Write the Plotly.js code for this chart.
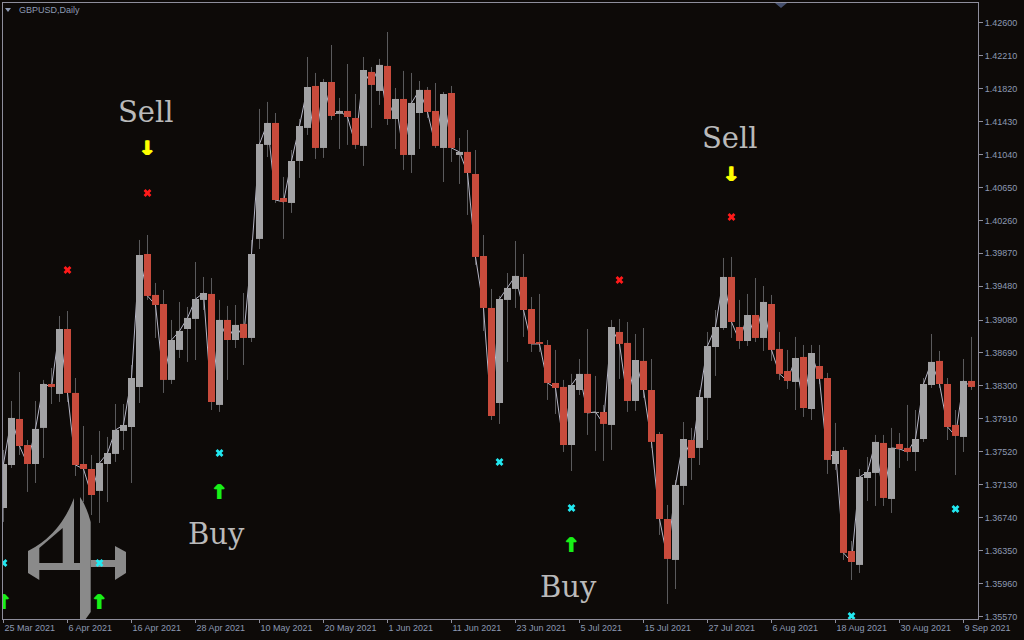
<!DOCTYPE html>
<html>
<head>
<meta charset="utf-8">
<script src="https://cdn.plot.ly/plotly-3.0.1.min.js"></script>
<style>
  html, body { margin:0; padding:0; background:#0d0a08; }
  #chart { width:1024px; height:640px; }
</style>
</head>
<body>
<div id="chart"></div>
<script>
// ---------- data ----------
const dates = [
 "2021-03-25","2021-03-26","2021-03-29","2021-03-30","2021-03-31",
 "2021-04-01","2021-04-02","2021-04-05","2021-04-06","2021-04-07","2021-04-08","2021-04-09",
 "2021-04-12","2021-04-13","2021-04-14","2021-04-15","2021-04-16","2021-04-19","2021-04-20",
 "2021-04-21","2021-04-22","2021-04-23","2021-04-26","2021-04-27","2021-04-28","2021-04-29","2021-04-30",
 "2021-05-03","2021-05-04","2021-05-05","2021-05-06","2021-05-07","2021-05-10","2021-05-11","2021-05-12",
 "2021-05-13","2021-05-14","2021-05-17","2021-05-18","2021-05-19","2021-05-20","2021-05-21","2021-05-24",
 "2021-05-25","2021-05-26","2021-05-27","2021-05-28","2021-05-31",
 "2021-06-01","2021-06-02","2021-06-03","2021-06-04","2021-06-07","2021-06-08","2021-06-09","2021-06-10",
 "2021-06-11","2021-06-14","2021-06-15","2021-06-16","2021-06-17","2021-06-18","2021-06-21","2021-06-22",
 "2021-06-23","2021-06-24","2021-06-25","2021-06-28","2021-06-29","2021-06-30",
 "2021-07-01","2021-07-02","2021-07-05","2021-07-06","2021-07-07","2021-07-08","2021-07-09","2021-07-12",
 "2021-07-13","2021-07-14","2021-07-15","2021-07-16","2021-07-19","2021-07-20","2021-07-21","2021-07-22",
 "2021-07-23","2021-07-26","2021-07-27","2021-07-28","2021-07-29","2021-07-30",
 "2021-08-02","2021-08-03","2021-08-04","2021-08-05","2021-08-06","2021-08-09","2021-08-10","2021-08-11",
 "2021-08-12","2021-08-13","2021-08-16","2021-08-17","2021-08-18","2021-08-19","2021-08-20","2021-08-23",
 "2021-08-24","2021-08-25","2021-08-26","2021-08-27","2021-08-30","2021-08-31",
 "2021-09-01","2021-09-02","2021-09-03","2021-09-06","2021-09-07","2021-09-08","2021-09-09","2021-09-10"
];

const open = [
 1.36855,1.37364,1.37909,1.37601,1.37376,1.37803,1.38323,1.38205,1.38974,1.38217,
 1.37376,1.37317,1.37057,1.37376,1.37495,1.37767,1.37814,1.38288,1.39862,1.39377,
 1.39270,1.38371,1.38726,1.38974,1.39093,1.39318,1.39389,1.38075,1.39081,1.38844,
 1.39034,1.38868,1.40040,1.41153,1.41413,1.40525,1.40466,1.40963,1.41354,1.41851,
 1.41117,1.41898,1.41520,1.41555,1.41472,1.41141,1.42017,1.41792,1.42088,1.41460,
 1.41697,1.41034,1.41531,1.41804,1.41555,1.41117,1.41768,1.41034,1.41070,1.40809,
 1.39838,1.39223,1.38098,1.39318,1.39448,1.39590,1.39211,1.38820,1.38785,1.38335,
 1.38288,1.37601,1.38252,1.38442,1.37980,1.37992,1.37838,1.38939,1.38809,1.38122,
 1.38596,1.38252,1.37731,1.36725,1.36240,1.37116,1.37660,1.37566,1.38158,1.38761,
 1.38986,1.39590,1.38998,1.38832,1.39140,1.38868,1.39270,1.38738,1.38477,1.38347,
 1.38643,1.38027,1.38536,1.38394,1.37376,1.37542,1.36346,1.36181,1.37210,1.37270,
 1.37625,1.36962,1.37613,1.37566,1.37518,1.37672,1.38311,1.38596,1.38323,1.37838,
 1.37696,1.38359
];
const high = [
 1.37542,1.38122,1.38465,1.37660,1.38122,1.38371,1.38513,1.39128,1.39187,1.38394,
 1.37826,1.37483,1.37767,1.37696,1.38086,1.38086,1.38548,1.40028,1.40087,1.39519,
 1.39436,1.39081,1.39294,1.39235,1.39767,1.39590,1.39578,1.39318,1.39247,1.39258,
 1.39400,1.40028,1.41579,1.41662,1.41531,1.40774,1.41093,1.41460,1.42194,1.42005,
 1.41934,1.42336,1.41709,1.42111,1.41756,1.42194,1.42076,1.42171,1.42490,1.41827,
 1.42029,1.42005,1.41910,1.41839,1.41886,1.41780,1.41851,1.41235,1.41330,1.41093,
 1.40087,1.39448,1.39365,1.39637,1.40016,1.39862,1.39353,1.39389,1.38844,1.38726,
 1.38371,1.38442,1.38619,1.38974,1.38418,1.38075,1.39081,1.39093,1.39057,1.38915,
 1.38986,1.38619,1.37755,1.36891,1.37187,1.37873,1.37803,1.38252,1.38939,1.39199,
 1.39815,1.39827,1.39318,1.39389,1.39578,1.39483,1.39377,1.38939,1.38726,1.38880,
 1.38785,1.38785,1.38785,1.38454,1.37862,1.37577,1.36465,1.37317,1.37459,1.37720,
 1.37720,1.37803,1.37743,1.38075,1.38015,1.38394,1.38915,1.38714,1.38394,1.38015,
 1.38619,1.38880
];
const low = [
 1.36690,1.37329,1.37483,1.37045,1.37151,1.37447,1.38086,1.38110,1.38110,1.37234,
 1.36926,1.36772,1.36678,1.36926,1.37400,1.37542,1.37151,1.38098,1.39318,1.38868,
 1.38217,1.38323,1.38631,1.38584,1.38607,1.39199,1.38015,1.37992,1.38371,1.38749,
 1.38548,1.38820,1.39921,1.41010,1.40466,1.40040,1.40348,1.40762,1.41271,1.40987,
 1.40999,1.41448,1.41105,1.41153,1.41105,1.40904,1.41354,1.41626,1.41389,1.41105,
 1.40857,1.40821,1.41105,1.41472,1.41117,1.40714,1.40951,1.40691,1.40324,1.39732,
 1.38951,1.37897,1.37850,1.38584,1.39223,1.38880,1.38702,1.38702,1.38134,1.37968,
 1.37518,1.37293,1.38193,1.37720,1.37530,1.37412,1.37542,1.38383,1.37992,1.38004,
 1.38158,1.37566,1.36536,1.35719,1.35896,1.36891,1.37187,1.37364,1.37660,1.38418,
 1.38963,1.38868,1.38738,1.38773,1.38820,1.38714,1.38596,1.38371,1.38264,1.38015,
 1.37933,1.37897,1.38323,1.37258,1.37305,1.36240,1.36003,1.36086,1.36938,1.36879,
 1.36879,1.36796,1.37329,1.37412,1.37293,1.37637,1.38276,1.38276,1.37660,1.37246,
 1.37518,1.38252
];
const close = [
 1.37376,1.37921,1.37589,1.37376,1.37791,1.38323,1.38288,1.38974,1.38217,1.37364,
 1.37317,1.37009,1.37388,1.37506,1.37779,1.37838,1.38394,1.39850,1.39365,1.39258,
 1.38371,1.38844,1.38951,1.39105,1.39329,1.39400,1.38110,1.39081,1.38844,1.39022,
 1.38868,1.39862,1.41164,1.41413,1.40501,1.40478,1.40963,1.41377,1.41839,1.41117,
 1.41898,1.41496,1.41555,1.41484,1.41153,1.42040,1.41863,1.42100,1.41460,1.41697,
 1.41034,1.41650,1.41804,1.41543,1.41141,1.41756,1.41117,1.41070,1.40821,1.39827,
 1.39223,1.37944,1.39329,1.39460,1.39602,1.39199,1.38797,1.38797,1.38335,1.38276,
 1.37601,1.38311,1.38442,1.37980,1.37992,1.37850,1.38998,1.38797,1.38122,1.38607,
 1.38252,1.37637,1.36725,1.36252,1.37128,1.37672,1.37447,1.38169,1.38773,1.38998,
 1.39590,1.39057,1.38832,1.39140,1.38868,1.39294,1.38726,1.38442,1.38359,1.38631,
 1.38039,1.38690,1.38383,1.37424,1.37530,1.36323,1.36216,1.37222,1.37281,1.37637,
 1.36974,1.37566,1.37554,1.37518,1.37672,1.38323,1.38584,1.38323,1.37814,1.37708,
 1.38359,1.38288
];

// signals
const sellMarkDates  = ["2021-04-06","2021-04-20","2021-07-12","2021-07-30"];
const sellMarkPrices = [1.39673, 1.40584, 1.39554, 1.40300];
const sellArrowDates  = ["2021-04-20","2021-07-30"];
const sellArrowPrices = [1.41093, 1.40786];
const buyMarkDates  = ["2021-03-25","2021-04-12","2021-05-03","2021-06-21","2021-07-02","2021-08-20","2021-09-08"];
const buyMarkPrices = [1.36204, 1.36204, 1.37506, 1.37400, 1.36855, 1.35577, 1.36844];
const buyArrowDates  = ["2021-03-25","2021-04-12","2021-05-03","2021-07-02"];
const buyArrowPrices = [1.35719, 1.35719, 1.37021, 1.36394];
const sellLabelDates  = ["2021-04-20","2021-07-30"];
const sellLabelPrices = [1.41093, 1.40786];
const buyLabelDates   = ["2021-05-03","2021-07-02"];
const buyLabelPrices  = [1.37021, 1.36394];

// axis ticks
const priceTicks = [1.42600,1.42210,1.41820,1.41430,1.41040,1.40650,1.40260,1.39870,1.39480,
  1.39080,1.38690,1.38300,1.37910,1.37520,1.37130,1.36740,1.36350,1.35960,1.35570];
const dateTickValues = ["2021-03-25","2021-04-06","2021-04-16","2021-04-28","2021-05-10","2021-05-20",
  "2021-06-01","2021-06-11","2021-06-23","2021-07-05","2021-07-15","2021-07-27","2021-08-06",
  "2021-08-18","2021-08-30","2021-09-09"];
const dateTickLabels = ["25 Mar 2021","6 Apr 2021","16 Apr 2021","28 Apr 2021","10 May 2021","20 May 2021",
  "1 Jun 2021","11 Jun 2021","23 Jun 2021","5 Jul 2021","15 Jul 2021","27 Jul 2021","6 Aug 2021",
  "18 Aug 2021","30 Aug 2021","9 Sep 2021"];

// ---------- style ----------
const BG = "#0d0a08";
const BULL = "#a2a2a4";
const BEAR = "#c84b3c";
const WICK = "#5a5a5c";
const AXIS = "#8e8e9c";
const LABEL = "#8c99b2";
const MINBODY = 0.00012;

// ---------- traces ----------
const wx = [], wy = [];
dates.forEach((d, i) => { wx.push(d, d, null); wy.push(low[i], high[i], null); });

function bodies(isBull) {
  const bx = [], by = [];
  dates.forEach((d, i) => {
    const up = close[i] >= open[i];
    if (up !== isBull) return;
    let a = Math.min(open[i], close[i]), b = Math.max(open[i], close[i]);
    if (b - a < MINBODY) { const m = (a + b) / 2; a = m - MINBODY / 2; b = m + MINBODY / 2; }
    bx.push(d, d, null); by.push(a, b, null);
  });
  return { type:"scatter", mode:"lines", x:bx, y:by, connectgaps:false,
    line:{color:isBull ? BULL : BEAR, width:7}, hoverinfo:"skip" };
}

const GREEN = "#18f018", YELLOW = "#ffff00";
const traces = [
  { type:"scatter", mode:"lines", x:wx, y:wy, connectgaps:false,
    line:{color:WICK, width:1}, hoverinfo:"skip" },
  { type:"scatter", mode:"lines", x:dates, y:close,
    line:{color:"#b6b6c6", width:1}, hoverinfo:"skip" },
  bodies(true),
  bodies(false),
  { type:"scatter", mode:"markers", x:sellMarkDates, y:sellMarkPrices,
    marker:{symbol:"x", size:7, color:"#ff1a1a", line:{width:0}} },
  { type:"scatter", mode:"markers", x:buyMarkDates, y:buyMarkPrices,
    marker:{symbol:"x", size:7, color:"#22e8f0", line:{width:0}} },
  { type:"scatter", mode:"text", x:sellArrowDates, y:sellArrowPrices, text:sellArrowDates.map(()=>"↓"),
    textposition:"middle center",
    textfont:{family:"DejaVu Sans", size:20, color:YELLOW, weight:"bold",
      shadow:"1px 0px 0px " + YELLOW + ", -1px 0px 0px " + YELLOW} },
  { type:"scatter", mode:"text", x:buyArrowDates, y:buyArrowPrices, text:buyArrowDates.map(()=>"↑"),
    textposition:"middle center",
    textfont:{family:"DejaVu Sans", size:20, color:GREEN, weight:"bold",
      shadow:"1px 0px 0px " + GREEN + ", -1px 0px 0px " + GREEN} }
];

// ---------- decorations (pixel -> paper) ----------
const L = 3, R = 978, T = 3, B = 619;
const px = x => ((x - L) / (R - L)).toFixed(5);
const py = y => (1 - (y - T) / (B - T)).toFixed(5);
function poly(pts) { return "M" + pts.map(p => px(p[0]) + "," + py(p[1])).join(" L") + " Z"; }
const LOGO = "#8a8a8a";
const shapes = [
  { type:"path", xref:"paper", yref:"paper", layer:"below", line:{width:0}, fillcolor:LOGO,
    path:"M" + px(80)+","+py(497)+" Q"+px(86)+","+py(505)+" "+px(90.7)+","+py(522)+" L"+px(90.7)+","+py(612)+" L"+px(85)+","+py(620)+" L"+px(80)+","+py(620)+" Z" },
  { type:"path", xref:"paper", yref:"paper", layer:"below", line:{width:0}, fillcolor:LOGO,
    path:"M"+px(74)+","+py(498)+" L"+px(74)+","+py(563)+" L"+px(80)+","+py(563)+" L"+px(80)+","+py(570)+" L"+px(39.3)+","+py(570)+" L"+px(39.3)+","+py(580)+" L"+px(28)+","+py(573)+" L"+px(28)+","+py(551)+" Q"+px(60)+","+py(535)+" "+px(74)+","+py(498)+" Z" },
  { type:"path", xref:"paper", yref:"paper", layer:"below", line:{width:0}, fillcolor:BG,
    path:poly([[39.3,563],[39.3,548],[62.7,528],[62.7,563]]) },
  { type:"path", xref:"paper", yref:"paper", layer:"below", line:{width:0}, fillcolor:LOGO,
    path:poly([[90.7,560],[115,560],[115,567],[90.7,567]]) },
  { type:"path", xref:"paper", yref:"paper", layer:"below", line:{width:0}, fillcolor:LOGO,
    path:poly([[115,546],[126,552],[126,573],[115,580]]) },
  // chart shift marker and title triangle
  { type:"path", xref:"paper", yref:"paper", line:{width:0}, fillcolor:"#45506e",
    path:poly([[775,3],[787,3],[781,8]]) },
  { type:"path", xref:"paper", yref:"paper", line:{width:0}, fillcolor:LABEL,
    path:poly([[5,8],[11,8],[8,12]]) }
];

const annotations = [
  { xref:"paper", yref:"paper", x:px(17), y:py(10), xanchor:"left", yanchor:"middle", showarrow:false,
    text:"GBPUSD,Daily", font:{family:"Liberation Sans", size:9, color:LABEL} }
];
sellLabelDates.forEach((d, i) => annotations.push({
  x:d, y:sellLabelPrices[i], xref:"x", yref:"y", yshift:38, xshift:-2, showarrow:false, text:"Sell",
  font:{family:"DejaVu Serif", size:29, color:"#bababa"}
}));
buyLabelDates.forEach((d, i) => annotations.push({
  x:d, y:buyLabelPrices[i], xref:"x", yref:"y", yshift:-40, xshift:-3, showarrow:false, text:"Buy",
  font:{family:"DejaVu Serif", size:29, color:"#bababa"}
}));

const layout = {
  width:1024, height:640,
  paper_bgcolor:BG, plot_bgcolor:BG,
  margin:{l:L, r:1024-R, t:T, b:640-B, pad:0},
  showlegend:false,
  font:{family:"Liberation Sans", size:9, color:LABEL},
  xaxis:{ type:"category", range:[-0.0625, 121.8125], categoryorder:"array", categoryarray:dates,
    tickvals:dateTickValues, ticktext:dateTickLabels, ticklabelposition:"outside right",
    ticks:"outside", ticklen:3, tickcolor:AXIS, showgrid:false, zeroline:false,
    showline:true, linecolor:AXIS, linewidth:1, mirror:true,
    tickfont:{family:"Liberation Sans", size:9, color:LABEL} },
  yaxis:{ side:"right", range:[1.35541, 1.42833], tickvals:priceTicks, ticktext:priceTicks.map(v=>v.toFixed(5)),
    ticks:"outside", ticklen:4, tickcolor:AXIS, showgrid:false, zeroline:false,
    showline:true, linecolor:AXIS, linewidth:1, mirror:true,
    tickfont:{family:"Liberation Sans", size:9, color:LABEL} },
  shapes:shapes, annotations:annotations
};

Plotly.newPlot("chart", traces, layout, {staticPlot:true, displayModeBar:false});
</script>
</body>
</html>
